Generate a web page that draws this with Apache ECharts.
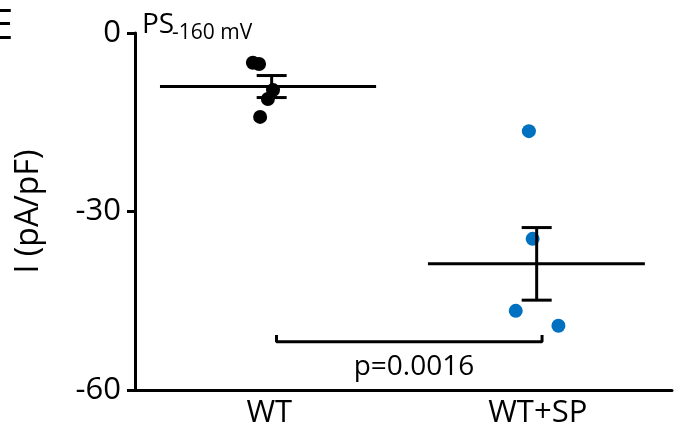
<!DOCTYPE html>
<html>
<head>
<meta charset="utf-8">
<script src="https://cdn.jsdelivr.net/npm/echarts@6/dist/echarts.min.js"></script>
<style>
  html, body { margin: 0; padding: 0; background: #fff; }
  #chart { width: 683px; height: 434px; }
</style>
</head>
<body>
<div id="chart"></div>
<script>
// group labels sit at x = 0.5 and 1.5 on a 0..2 value axis
const groups = ['WT', 'WT+SP']
const yTicks = [-60, -30, 0]

// individual cells [jittered x, I in pA/pF]
const wtPoints = [[0.439, -5.0], [0.462, -5.2], [0.514, -9.6], [0.495, -11.1], [0.466, -14.1]]
const spPoints = [[1.467, -16.5], [1.481, -34.6], [1.418, -46.7], [1.577, -49.2]]

// mean +/- SEM: [x of error bar, mean, sem, mean line from, mean line to]
const summary = [
  [0.509, -9.0, 1.85, 0.093, 0.898],
  [1.496, -38.8, 6.1, 1.091, 1.899],
]

// significance bracket
const bracket = [[0.527, -50.75], [0.527, -51.9], [1.516, -51.9], [1.516, -50.75]]
const pLabel = [[1.039, -56.1, 'p=0.0016']]

const FONT = '"Open Sans", sans-serif'
const chart = echarts.init(document.getElementById('chart'))

const option = {
  animation: false,
  backgroundColor: '#fff',
  textStyle: { fontFamily: FONT, color: '#000' },
  graphic: [
    {
      type: 'text',
      x: -10,
      y: 27,
      style: { text: 'E', fontFamily: FONT, fontSize: 42, fill: '#000', verticalAlign: 'middle' },
    },
    {
      type: 'text',
      x: 142,
      y: 25,
      style: { text: 'PS', fontFamily: FONT, fontSize: 28, fill: '#000', verticalAlign: 'middle' },
    },
    {
      type: 'text',
      x: 172,
      y: 33,
      style: { text: '-160 mV', fontFamily: FONT, fontSize: 21, fill: '#000', verticalAlign: 'middle' },
    },
  ],
  grid: { left: 135, right: 11, top: 33, bottom: 44 },
  xAxis: {
    type: 'value',
    min: 0,
    max: 2,
    interval: 0.5,
    axisLine: { onZero: false, lineStyle: { color: '#000', width: 3 } },
    axisTick: { show: false },
    splitLine: { show: false },
    axisLabel: {
      fontFamily: FONT,
      fontSize: 31,
      color: '#000',
      margin: 8,
      formatter: (v) => {
        if (Math.abs(v - 0.5) < 1e-6) return groups[0]
        if (Math.abs(v - 1.5) < 1e-6) return groups[1]
        return ''
      },
    },
  },
  yAxis: {
    type: 'value',
    min: yTicks[0],
    max: yTicks[yTicks.length - 1],
    interval: 30,
    name: 'I (pA/pF)',
    nameLocation: 'middle',
    nameGap: 90,
    nameTextStyle: { fontFamily: FONT, fontSize: 32, color: '#000' },
    axisLine: { onZero: false, lineStyle: { color: '#000', width: 3 } },
    axisTick: { length: 8, lineStyle: { color: '#000', width: 3 } },
    splitLine: { show: false },
    axisLabel: { fontFamily: FONT, fontSize: 31, color: '#000', margin: 14 },
  },
  series: [
    {
      type: 'custom',
      data: summary,
      z: 3,
      renderItem: (params, api) => {
        const x = api.value(0)
        const m = api.value(1)
        const s = api.value(2)
        const meanL = api.coord([api.value(3), m])
        const meanR = api.coord([api.value(4), m])
        const top = api.coord([x, m + s])
        const bot = api.coord([x, m - s])
        const cap = 15
        const st = { stroke: '#000', lineWidth: 3 }
        return {
          type: 'group',
          children: [
            { type: 'line', shape: { x1: meanL[0], y1: meanL[1], x2: meanR[0], y2: meanR[1] }, style: st },
            { type: 'line', shape: { x1: top[0], y1: top[1], x2: bot[0], y2: bot[1] }, style: st },
            { type: 'line', shape: { x1: top[0] - cap, y1: top[1], x2: top[0] + cap, y2: top[1] }, style: st },
            { type: 'line', shape: { x1: bot[0] - cap, y1: bot[1], x2: bot[0] + cap, y2: bot[1] }, style: st },
          ],
        }
      },
    },
    {
      type: 'scatter',
      data: wtPoints,
      symbolSize: 14,
      itemStyle: { color: '#000', opacity: 1 },
      z: 2,
    },
    {
      type: 'scatter',
      data: spPoints,
      symbolSize: 14,
      itemStyle: { color: '#0070C0', opacity: 1 },
      z: 2,
    },
    {
      type: 'line',
      data: bracket,
      symbol: 'none',
      lineStyle: { color: '#000', width: 3 },
    },
    {
      type: 'custom',
      data: pLabel,
      renderItem: (params, api) => {
        const pt = api.coord([api.value(0), api.value(1)])
        return {
          type: 'text',
          x: pt[0],
          y: pt[1],
          style: {
            text: pLabel[params.dataIndex][2],
            fontFamily: FONT,
            fontSize: 28,
            fill: '#000',
            align: 'center',
            verticalAlign: 'middle',
          },
        }
      },
    },
  ],
}

chart.setOption(option)
</script>
</body>
</html>
